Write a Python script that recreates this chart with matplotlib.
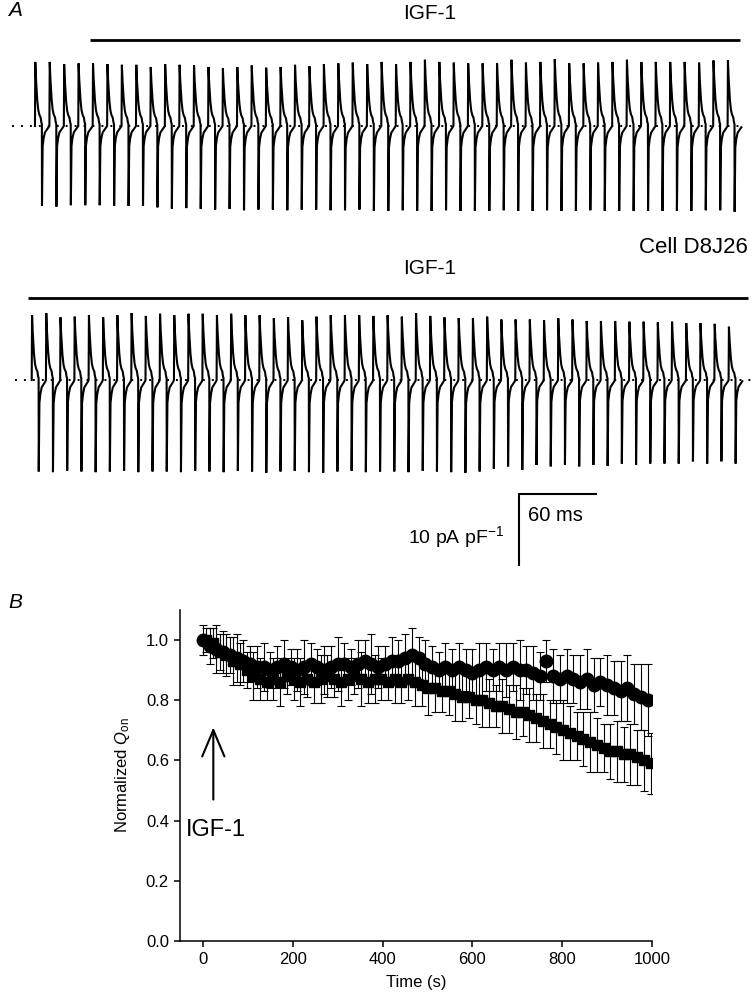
import numpy as np
import matplotlib
matplotlib.use('Agg')
import matplotlib.pyplot as plt

plt.rcParams['font.family'] = ['Liberation Sans', 'DejaVu Sans']
plt.rcParams['mathtext.fontset'] = 'custom'
plt.rcParams['mathtext.rm'] = 'Liberation Sans'
plt.rcParams['mathtext.it'] = 'Liberation Sans:italic'
plt.rcParams['mathtext.bf'] = 'Liberation Sans:bold'

# ---------------- Panel A data (gating current traces) ----------------
period_top_ms = 11.1      # pulse repetition in displayed trace (top)
period_bot_ms = 10.94     # pulse repetition (bottom)
start_top_ms = 26.9
start_bot_ms = 24.4

# ON peak amplitudes (pA/pF) per pulse, top trace (49 pulses)
on_top = [8.9, 8.9, 8.6, 8.7, 8.7, 8.6, 8.5, 8.5, 8.2, 8.6, 8.5, 8.4,
          8.2, 8.0, 8.2, 8.4, 8.1, 8.2, 8.5, 8.3, 8.6, 8.7, 8.8, 8.6, 8.9, 8.6, 8.9, 9.2, 8.9, 8.8,
          8.7, 8.7, 8.7, 9.2, 8.8, 8.9, 9.3, 8.7, 8.7, 8.8, 8.9, 9.2, 8.9, 8.9, 8.9, 8.9, 8.8, 9.1, 9.1]
# OFF trough amplitudes (pA/pF), top trace
off_top = [11.1, 11.2, 11.0, 11.0, 11.0, 11.1, 11.1, 11.1, 11.3, 11.5, 11.4, 11.5,
           11.6, 11.5, 11.7, 11.6, 11.6, 11.7, 11.6, 11.6, 11.7, 11.7, 11.6, 11.8, 11.8, 11.7, 11.8, 11.8, 11.7, 11.8,
           11.8, 11.8, 11.7, 11.8, 11.8, 11.7, 11.8, 11.8, 11.7, 11.8, 11.8, 11.8, 11.8, 11.8, 11.8, 11.8, 11.7, 11.7, 11.9]
# bottom trace (50 pulses)
on_bot = [9.0, 9.3, 8.7, 8.8, 9.0, 8.7, 9.0, 9.3, 8.9, 9.2, 9.0, 9.2,
          9.2, 9.0, 9.2, 9.0, 9.0, 8.6, 8.7, 8.3, 8.8, 9.0, 9.0, 9.0, 8.9, 9.0, 8.8, 9.3, 8.9, 8.7, 8.6,
          8.6, 8.8, 8.4, 8.4, 8.4, 8.3, 8.6, 8.4, 8.2, 8.2, 8.2, 8.1, 8.1, 8.0, 8.1, 7.9, 7.9, 7.8, 7.4]
off_bot = [12.7, 12.8, 12.6, 12.7, 12.8, 12.7, 12.6, 12.8, 12.7, 12.7, 12.8, 12.6,
           12.7, 12.8, 12.6, 12.7, 12.9, 12.7, 12.6, 12.8, 12.9, 12.7, 12.6, 12.8, 12.7, 12.7, 12.8, 12.6, 12.7, 12.8, 12.9,
           12.7, 12.3, 12.0, 12.5, 11.8, 12.0, 11.8, 12.0, 11.8, 11.9, 11.6, 11.8, 11.6, 11.6, 11.6, 11.3, 11.6, 11.3, 11.6]

# normalised single-pulse waveform (time in ms from pulse onset)
on_shape_t = [0.0, 0.25, 0.77, 1.77, 2.54, 3.31, 4.38, 4.85, 5.3]
on_shape_v = [0.0, 1.0, 0.74, 0.40, 0.25, 0.18, 0.13, 0.06, 0.03]
off_shape_t = [5.4, 5.92, 6.69, 7.69, 9.0, 10.54]
off_shape_v = [-1.0, -0.25, -0.15, -0.08, -0.05, -0.015]

# ---------------- Panel B data ----------------
time_circ = np.arange(0, 991, 15)
time_sq = np.arange(0, 991, 15) + 7
q_circ = [1.00, 0.98, 0.97, 0.96, 0.95, 0.94, 0.93, 0.92, 0.91, 0.91,
          0.90, 0.91, 0.92, 0.91, 0.90, 0.91, 0.92, 0.91, 0.90, 0.91,
          0.92, 0.92, 0.91, 0.92, 0.93, 0.92, 0.91, 0.92, 0.93, 0.93,
          0.94, 0.95, 0.94, 0.92, 0.91, 0.90, 0.91, 0.90, 0.91, 0.90,
          0.89, 0.90, 0.91, 0.90, 0.91, 0.90, 0.91, 0.90, 0.90, 0.89,
          0.88, 0.93, 0.88, 0.87, 0.88, 0.87, 0.86, 0.87, 0.85, 0.86,
          0.85, 0.84, 0.83, 0.84, 0.82, 0.81, 0.80]
err_circ = [0.05, 0.06, 0.08, 0.07, 0.06, 0.08, 0.07, 0.06, 0.07, 0.08,
            0.06, 0.07, 0.08, 0.06, 0.07, 0.09, 0.07, 0.06, 0.08, 0.07,
            0.09, 0.07, 0.06, 0.08, 0.07, 0.10, 0.07, 0.06, 0.08, 0.07,
            0.08, 0.09, 0.07, 0.08, 0.07, 0.06, 0.08, 0.07, 0.08, 0.07,
            0.08, 0.09, 0.08, 0.07, 0.08, 0.09, 0.08, 0.10, 0.08, 0.09,
            0.08, 0.07, 0.09, 0.08, 0.09, 0.08, 0.09, 0.10, 0.09, 0.08,
            0.10, 0.09, 0.10, 0.11, 0.10, 0.11, 0.12]
q_sq = [1.00, 0.99, 0.96, 0.95, 0.93, 0.92, 0.90, 0.88, 0.87, 0.86,
        0.87, 0.86, 0.88, 0.87, 0.86, 0.87, 0.86, 0.87, 0.88, 0.87,
        0.86, 0.87, 0.88, 0.87, 0.86, 0.87, 0.87, 0.86, 0.87, 0.86,
        0.87, 0.86, 0.85, 0.84, 0.84, 0.83, 0.83, 0.82, 0.81, 0.81,
        0.80, 0.80, 0.79, 0.78, 0.78, 0.77, 0.76, 0.76, 0.75, 0.74,
        0.73, 0.72, 0.71, 0.70, 0.69, 0.68, 0.67, 0.66, 0.65, 0.64,
        0.63, 0.63, 0.62, 0.62, 0.61, 0.60, 0.59]
err_sq = [0.04, 0.05, 0.06, 0.07, 0.08, 0.07, 0.06, 0.08, 0.07, 0.06,
          0.07, 0.08, 0.06, 0.07, 0.08, 0.06, 0.07, 0.08, 0.07, 0.06,
          0.08, 0.07, 0.06, 0.09, 0.07, 0.08, 0.07, 0.06, 0.08, 0.07,
          0.07, 0.08, 0.07, 0.09, 0.08, 0.07, 0.08, 0.09, 0.08, 0.07,
          0.08, 0.09, 0.08, 0.07, 0.09, 0.08, 0.09, 0.08, 0.09, 0.08,
          0.09, 0.08, 0.09, 0.10, 0.09, 0.08, 0.09, 0.10, 0.09, 0.08,
          0.09, 0.10, 0.09, 0.10, 0.09, 0.10, 0.10]

W, H = 756, 1005
fig = plt.figure(figsize=(W / 100, H / 100), dpi=100)


def ftext(x, y, s, **kw):
    fig.text(x / W, 1 - y / H, s, **kw)


# ---------------- Panel A ----------------
PX_PER_MS = 1.3
PX_PER_UNIT = 7.2
A_H = 585
BASE_TOP = 126
axA = fig.add_axes([0, 1 - A_H / H, 1, A_H / H])
axA.set_xlim(0, W / PX_PER_MS)
axA.set_ylim(-(A_H - BASE_TOP) / PX_PER_UNIT, BASE_TOP / PX_PER_UNIT)
axA.axis('off')


def X(px):
    return px / PX_PER_MS


def Y(py):
    return (BASE_TOP - py) / PX_PER_UNIT


def build_trace(start, period, ons, offs, offset):
    ts, vs = [], []
    for i, (a_on, a_off) in enumerate(zip(ons, offs)):
        t0 = start + i * period
        ts.extend(t0 + np.array(on_shape_t))
        vs.extend(np.array(on_shape_v) * a_on)
        ts.extend(t0 + np.array(off_shape_t))
        vs.extend(np.array(off_shape_v) * a_off)
    return np.array(ts), np.array(vs) + offset


off_bottom = Y(380)
t1, v1 = build_trace(start_top_ms, period_top_ms, on_top, off_top, 0.0)
t2, v2 = build_trace(start_bot_ms, period_bot_ms, on_bot, off_bot, off_bottom)
axA.plot(t1, v1, color='black', lw=1.5, solid_joinstyle='miter')
axA.plot(t2, v2, color='black', lw=1.5, solid_joinstyle='miter')

# dotted baselines
axA.plot([X(12), X(745)], [0, 0], color='black', lw=1.4, ls=(0, (1, 3.6)))
axA.plot([X(15), X(752)], [off_bottom, off_bottom], color='black', lw=1.4, ls=(0, (1, 3.6)))

# IGF-1 bars
axA.plot([X(90), X(740)], [Y(40), Y(40)], color='black', lw=2.0, solid_capstyle='butt')
axA.text(X(430), Y(13), 'IGF-1', ha='center', va='center', fontsize=15)
axA.plot([X(28), X(748)], [Y(298), Y(298)], color='black', lw=2.0, solid_capstyle='butt')
axA.text(X(430), Y(268), 'IGF-1', ha='center', va='center', fontsize=15)
axA.text(X(748), Y(247), 'Cell D8J26', ha='right', va='center', fontsize=16)

# scale bar: 60 ms, 10 pA/pF
sx, sy = X(519), Y(494)
axA.plot([sx, sx, sx + 60], [sy - 10, sy, sy], color='black', lw=1.5,
         solid_joinstyle='miter', solid_capstyle='butt')
axA.text(X(528), Y(515), '60 ms', ha='left', va='center', fontsize=14.5)
axA.text(X(504), Y(537), r'10 pA pF$^{-1}$', ha='right', va='center', fontsize=14)

ftext(8, 11, 'A', fontsize=15, style='italic', ha='left', va='center')

# ---------------- Panel B ----------------
L, R, T, B = 180, 652, 610, 941
axB = fig.add_axes([L / W, 1 - B / H, (R - L) / W, (B - T) / H])
axB.errorbar(time_sq, q_sq, yerr=err_sq, fmt='s', ms=7.5, mfc='black', mec='black',
             ecolor='black', elinewidth=0.8, capsize=3, capthick=0.8)
axB.errorbar(time_circ, q_circ, yerr=err_circ, fmt='o', ms=9, mfc='black', mec='black',
             ecolor='black', elinewidth=0.8, capsize=3, capthick=0.8)
axB.set_xlim(-51.2, 1000)
axB.set_ylim(0, 1.1)
axB.set_xticks([0, 200, 400, 600, 800, 1000])
axB.set_yticks([0.0, 0.2, 0.4, 0.6, 0.8, 1.0])
axB.set_yticklabels(['0.0', '0.2', '0.4', '0.6', '0.8', '1.0'])
for s in ['top', 'right']:
    axB.spines[s].set_visible(False)
for s in ['left', 'bottom']:
    axB.spines[s].set_linewidth(1.1)
axB.tick_params(direction='out', length=4, width=1.1, labelsize=12, pad=4)
axB.set_xlabel('Time (s)', fontsize=12, labelpad=6)
axB.set_ylabel(r'Normalized $Q_{\rm on}$', fontsize=12, labelpad=10)

axB.annotate('', xy=(23, 0.71), xytext=(23, 0.47),
             arrowprops=dict(arrowstyle='->,head_length=1.9,head_width=0.8', lw=1.5,
                             color='black', shrinkA=0, shrinkB=0, mutation_scale=10))
ftext(186, 830, 'IGF-1', fontsize=17, ha='left', va='center')
ftext(8, 603, 'B', fontsize=15, style='italic', ha='left', va='center')

fig.savefig('out.png', dpi=100)
